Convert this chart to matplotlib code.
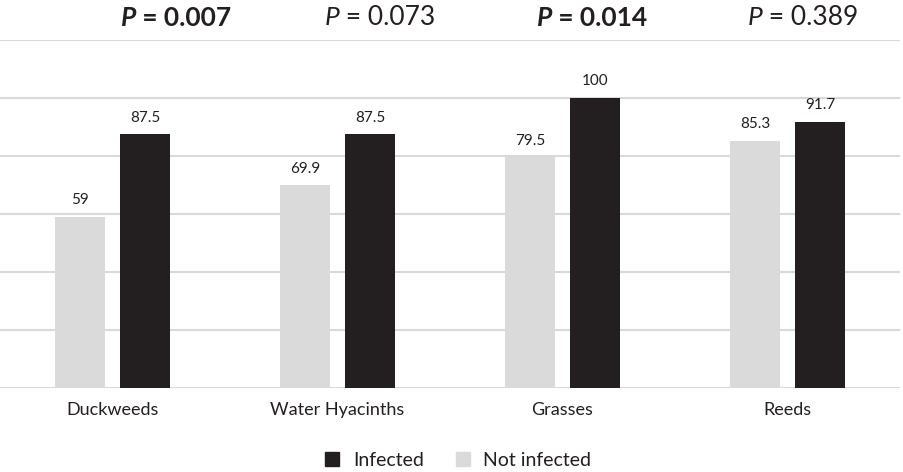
import matplotlib
matplotlib.use('Agg')
import numpy as np
import matplotlib.pyplot as plt
from matplotlib.lines import Line2D
from matplotlib.transforms import IdentityTransform

# data
categories = ['Duckweeds', 'Water Hyacinths', 'Grasses', 'Reeds']
not_infected = [59, 69.9, 79.5, 85.3]
infected = [87.5, 87.5, 100, 91.7]
p_labels = ['0.007', '0.073', '0.014', '0.389']
p_significant = [True, False, True, False]

plt.rcParams['font.family'] = ['Lato', 'DejaVu Sans']

black = '#231f20'
grey = '#dadadb'
text_c = '#231f20'

fig = plt.figure(figsize=(9.04, 4.72), dpi=100)
ax = fig.add_axes([0, 84 / 472, 900 / 904, 348 / 472])

x = np.arange(len(categories))
w = 0.222
off = 0.144

ax.bar(x - off, not_infected, w, color=grey, zorder=2)
ax.bar(x + off, infected, w, color=black, zorder=2)

# value labels
for xi, v in zip(x, not_infected):
    ax.annotate('%g' % v, (xi - off, v), xytext=(0, 7), textcoords='offset points',
                ha='center', va='bottom', fontsize=11, color=text_c)
for xi, v in zip(x, infected):
    ax.annotate('%g' % v, (xi + off, v), xytext=(0, 7), textcoords='offset points',
                ha='center', va='bottom', fontsize=11, color=text_c)

ax.set_xlim(-0.5, 3.5)
ax.set_ylim(0, 120)
ax.set_yticks(np.arange(0, 121, 20))
ax.yaxis.grid(True, color='#d9d9d9', linewidth=1.5, zorder=0)
ax.set_yticklabels([])
ax.tick_params(axis='y', length=0)
ax.tick_params(axis='x', length=0, pad=10)
ax.set_xticks(x)
ax.set_xticklabels(categories, fontsize=13, color=text_c)
for s in ax.spines.values():
    s.set_visible(False)
ax.set_axisbelow(True)

# P values above the plot (hand placed text boxes in the original)
# italic P followed by upright " = value", centred on p_x
p_x = [0.282, 1.189, 2.131, 3.069]
r = fig.canvas.get_renderer()
for px, p, sig in zip(p_x, p_labels, p_significant):
    wt = 'bold' if sig else 'normal'
    cx, cy = ax.transData.transform((px, 127.6))
    t1 = fig.text(0, 0, 'P', fontsize=19, fontweight=wt, style='italic',
                  color=text_c, ha='left', va='center',
                  transform=IdentityTransform())
    t2 = fig.text(0, 0, ' = ' + p, fontsize=19, fontweight=wt,
                  color=text_c, ha='left', va='center',
                  transform=IdentityTransform())
    w1 = t1.get_window_extent(r).width
    w2 = t2.get_window_extent(r).width
    x0 = cx - (w1 + w2) / 2
    t1.set_position((x0, cy))
    t2.set_position((x0 + w1, cy))

handles = [Line2D([], [], marker='s', linestyle='', color=black, markersize=10),
           Line2D([], [], marker='s', linestyle='', color=grey, markersize=10)]
fig.legend(handles, ['Infected', 'Not infected'], loc='center',
           bbox_to_anchor=(452 / 904, 1 - 460 / 472), ncol=2, frameon=False,
           fontsize=14, handletextpad=0.05, columnspacing=1.0,
           labelcolor=text_c)

fig.savefig('out.png', dpi=100)
